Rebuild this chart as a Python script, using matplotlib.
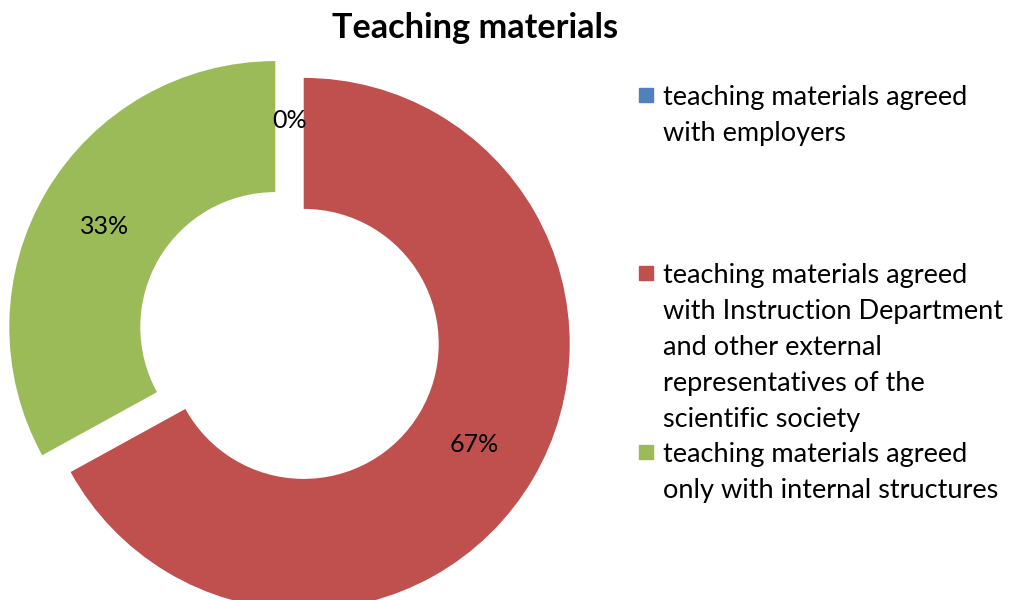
import matplotlib.pyplot as plt
from matplotlib.patches import Rectangle

title = "Teaching materials"
categories = [
    "teaching materials agreed\nwith employers",
    "teaching materials agreed\nwith Instruction Department\nand other external\nrepresentatives of the\nscientific society",
    "teaching materials agreed\nonly with internal structures",
]
shares = [0, 67, 33]
colors = ["#4F81BD", "#C0504D", "#9BBB59"]

plt.rcParams["font.family"] = "Lato"

fig = plt.figure(figsize=(10.11, 6), dpi=100)
# axes covers the whole figure, data units = pixels (y up)
ax = fig.add_axes([0, 0, 1, 1])
wedges, texts, autotexts = ax.pie(
    shares, colors=colors, startangle=90, counterclock=False,
    radius=266, center=(289.5, 264.5), explode=[16.5] * 3,
    wedgeprops=dict(width=131, edgecolor="none", linewidth=0),
    autopct="%.0f%%", pctdistance=0.745,
    textprops=dict(fontsize=18, color="black"))
ax.set_xlim(0, 1011)
ax.set_ylim(0, 600)
ax.set_aspect("equal")
ax.axis("off")

ax.text(475, 600 - 38, title, ha="center", va="baseline",
        fontsize=24.7, fontweight="bold")

# legend drawn by hand, Excel spaces the entries unevenly
first_baselines = [105, 283, 462]
for label, color, base in zip(categories, colors, first_baselines):
    ax.add_patch(Rectangle((639, 600 - base + 3), 14, 14, color=color))
    for i, line in enumerate(label.split("\n")):
        ax.text(663, 600 - base - 36 * i, line, ha="left", va="baseline",
                fontsize=19.5)

fig.savefig("out.png", dpi=100)
